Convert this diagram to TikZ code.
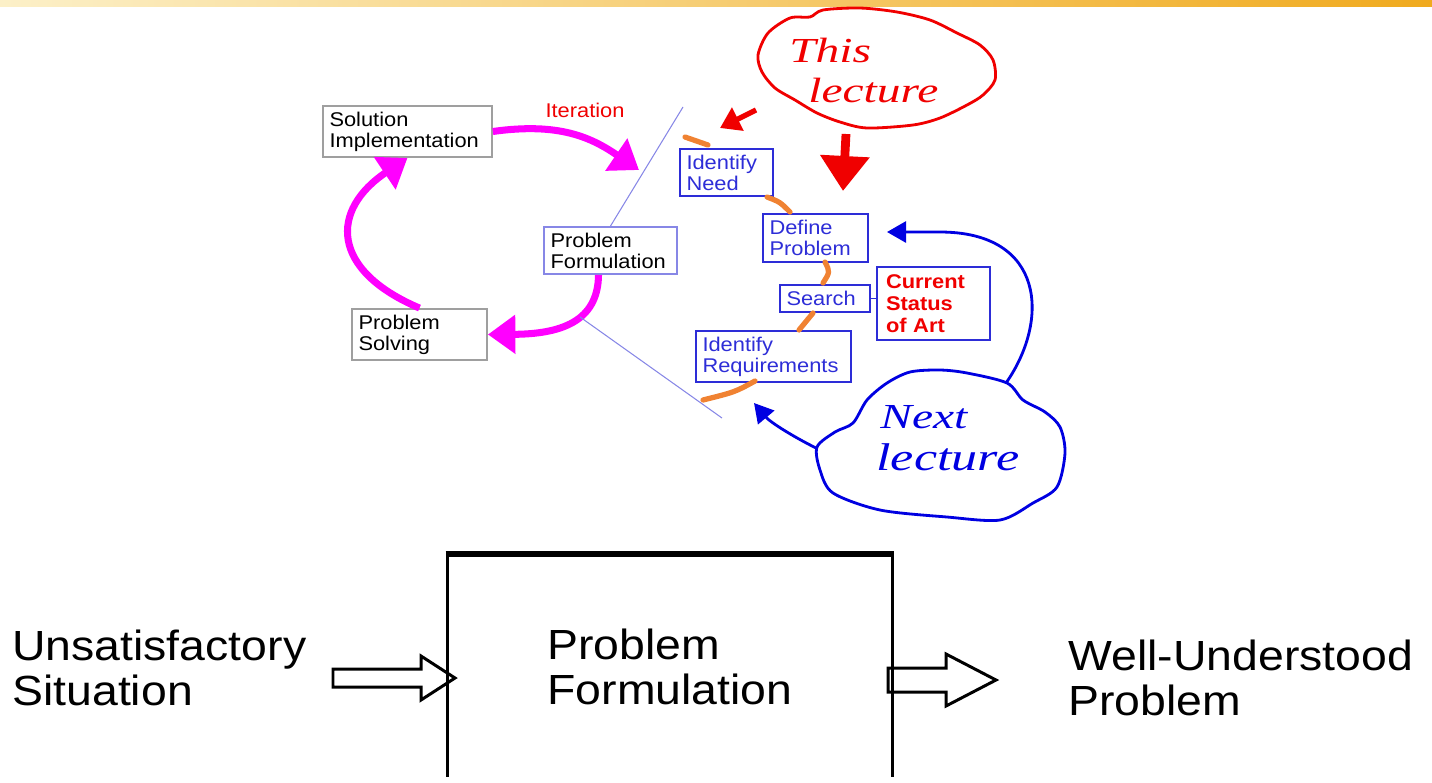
\documentclass[tikz,border=0pt]{standalone}
\usepackage{fontspec}
\setmainfont{Liberation Sans}[FakeStretch=1.1]
\newfontfamily\handfont{Liberation Serif}[FakeStretch=1.35]
\usetikzlibrary{arrows.meta}

\definecolor{magline}{RGB}{255,0,255}
\definecolor{orangestroke}{RGB}{240,130,50}
\definecolor{boxblue}{RGB}{45,45,215}
\definecolor{thinblue}{RGB}{135,135,230}
\definecolor{handred}{RGB}{240,0,0}
\definecolor{handblue}{RGB}{0,0,225}
\definecolor{bandpale}{RGB}{252,240,200}
\definecolor{bandmid}{RGB}{245,205,90}
\definecolor{bandorange}{RGB}{240,170,30}

\newcommand\smalltext{\fontsize{11.3}{11.9}\selectfont}
\newcommand\bigtext{\fontsize{24}{25.5}\selectfont}

\tikzset{
	greybox/.style={draw=gray!75, line width=1pt, align=left, inner xsep=0.13cm, font=\smalltext},
	bluebox/.style={draw=boxblue, line width=1pt, text=boxblue, align=left, inner xsep=0.13cm, font=\smalltext},
	pinkarrow/.style={magline, line width=4pt, -{Triangle[length=0.55cm,width=0.75cm]}},
	orangemark/.style={orangestroke, line width=3pt, line cap=round},
	thinline/.style={thinblue, line width=0.6pt},
	handtext/.style={font=\handfont\itshape\fontsize{20}{20}\selectfont, anchor=base west, inner sep=0pt}
}

\begin{document}
\begin{tikzpicture}[x=0.02cm,y=-0.02cm]
		\useasboundingbox (0,0) rectangle (1432,782);
		\clip (0,0) rectangle (1432,776);
		
		% Define top band
		\shade[left color=bandpale, middle color=bandmid, right color=bandorange] (0,0) rectangle (1432,6);
		
		% Define the loop
		\node[greybox, text width=3.12cm, minimum height=0.98cm] (SolImpl) at (407.5,131.5) {Solution\\Implementation};
		\node[greybox, draw=thinblue, text width=2.40cm, minimum height=0.9cm] (ProbForm) at (610.5,250.5) {Problem\\Formulation};
		\node[greybox, text width=2.44cm, minimum height=0.9cm] (ProbSolv) at (419.5,334.5) {Problem\\Solving};
		\node[text=handred, font=\smalltext, inner sep=0pt] (IterLabel) at (585,110) {Iteration};
		\coordinate (IterTip) at (639,170);
		
		\draw[pinkarrow] (SolImpl.east) .. controls (560,122) and (592,138) .. (IterTip);
		\draw[pinkarrow] ([xshift=-0.24cm]ProbForm.south) .. controls (598,322) and (560,334) .. (ProbSolv.east);
		\draw[pinkarrow] (ProbSolv.north) .. controls (330,270) and (330,210) .. (SolImpl.south);
		
		% Define the fan lines
		\coordinate (FanTop) at (683,107);
		\coordinate (FanStart) at (580,317);
		\coordinate (FanBottom) at (722,418);
		\draw[thinline] (ProbForm.north) -- (FanTop);
		\draw[thinline] (FanStart) -- (FanBottom);
		
		% Define the steps
		\node[bluebox, text width=1.60cm, minimum height=0.9cm] (IdNeed) at (726.5,172.5) {Identify\\Need};
		\node[bluebox, text width=1.84cm, minimum height=0.96cm] (DefProb) at (815.5,238) {Define\\Problem};
		\node[bluebox, text width=1.54cm, minimum height=0.54cm, inner ysep=0pt] (Search) at (825,298.5) {Search};
		\node[bluebox, text=handred, font=\fontsize{11.3}{12.5}\selectfont\bfseries, text width=1.90cm, inner xsep=0.18cm, minimum height=1.46cm] (CurStat) at (933.5,303.5) {Current\\Status\\of Art};
		\node[bluebox, text width=2.84cm, minimum height=0.94cm] (IdReq) at (773.5,356.5) {Identify\\Requirements};
		
		\draw[boxblue, line width=1pt] (Search.east) -- (Search.east -| CurStat.west);
		
		% Define orange marks
		\draw[orangemark] (685,137) -- (708,145);
		\draw[orangemark] (767,197) .. controls (780,202) .. (790,212);
		\draw[orangemark] (825,262) .. controls (830,272) .. (823,283);
		\draw[orangemark] (813,313) -- (799,330);
		\draw[orangemark] (755,381) .. controls (735,392) .. (703,400);
		
		% Define This lecture
		\draw[handred, line width=1.6pt] plot[smooth cycle] coordinates {(823,10) (860,8) (897,12) (930,20) (957,33) (980,45) (993,60) (995,80) (983,95) (967,105) (940,118) (913,125) (867,128) (840,122) (817,113) (795,100) (775,88) (762,72) (758,55) (768,33) (790,18) (810,17)};
		\node[handtext, text=handred] (ThisWord) at (789,62) {This};
		\node[handtext, text=handred] (ThisLecture) at (808,102) {lecture};
		
		\coordinate (RedSmallStart) at (756,110);
		\coordinate (RedSmallTip) at (720,128);
		\coordinate (RedBigStart) at (846,134);
		\coordinate (RedBigTip) at (843,191);
		\draw[handred, line width=3pt, -{Triangle[length=0.4cm,width=0.5cm]}] (RedSmallStart) -- (RedSmallTip);
		\draw[handred, line width=5pt, -{Triangle[length=0.7cm,width=0.95cm]}] (RedBigStart) -- (RedBigTip);
		
		% Define Next lecture
		\draw[handblue, line width=1.6pt] plot[smooth cycle] coordinates {(887,383) (910,372) (940,370) (967,373) (1007,383) (1023,400) (1045,412) (1060,427) (1065,453) (1057,487) (1033,503) (1000,520) (947,517) (880,510) (833,493) (820,470) (817,447) (835,432) (853,423) (867,400)};
		\node[handtext, text=handblue] (NextWord) at (880,428) {Next};
		\node[handtext, text=handblue, font=\handfont\itshape\fontsize{22}{22}\selectfont] (NextLecture) at (876,470) {lecture};
		
		\coordinate (NextTop) at (1006,383);
		\coordinate (NextLeft) at (816,448);
		\coordinate (DefProbTip) at (887,232);
		\coordinate (IdReqTip) at (754,403);
		\draw[handblue, line width=1.6pt, -{Triangle[length=0.38cm,width=0.42cm]}] (NextTop) .. controls (1050,320) and (1045,232) .. (940,232) -- (DefProbTip);
		\draw[handblue, line width=1.6pt, -{Triangle[length=0.38cm,width=0.42cm]}] (NextLeft) .. controls (792,436) and (770,422) .. (IdReqTip);
		
		% Define the block
		\node[draw, line width=1.7pt, minimum width=8.92cm, minimum height=4.48cm, align=left, font=\bigtext] (BigBox) at (670,667) {Problem\\Formulation};
		\draw[line width=3pt] (BigBox.north west) -- (BigBox.north east);
		\node[anchor=west, align=left, font=\bigtext, inner sep=0pt] (Unsat) at (12,668) {Unsatisfactory\\Situation};
		\node[anchor=west, align=left, font=\bigtext, inner sep=0pt] (WellUnd) at (1068,678) {Well-Understood\\Problem};
		
		\draw[line width=1.7pt] (333,669) -- (421,669) -- (421,656) -- (455,678) -- (421,700) -- (421,687) -- (333,687) -- cycle;
		\draw[line width=1.7pt] (888,668) -- (946,668) -- (946,654) -- (996,680) -- (946,706) -- (946,692) -- (888,692) -- cycle;
	\end{tikzpicture}
\end{document}
